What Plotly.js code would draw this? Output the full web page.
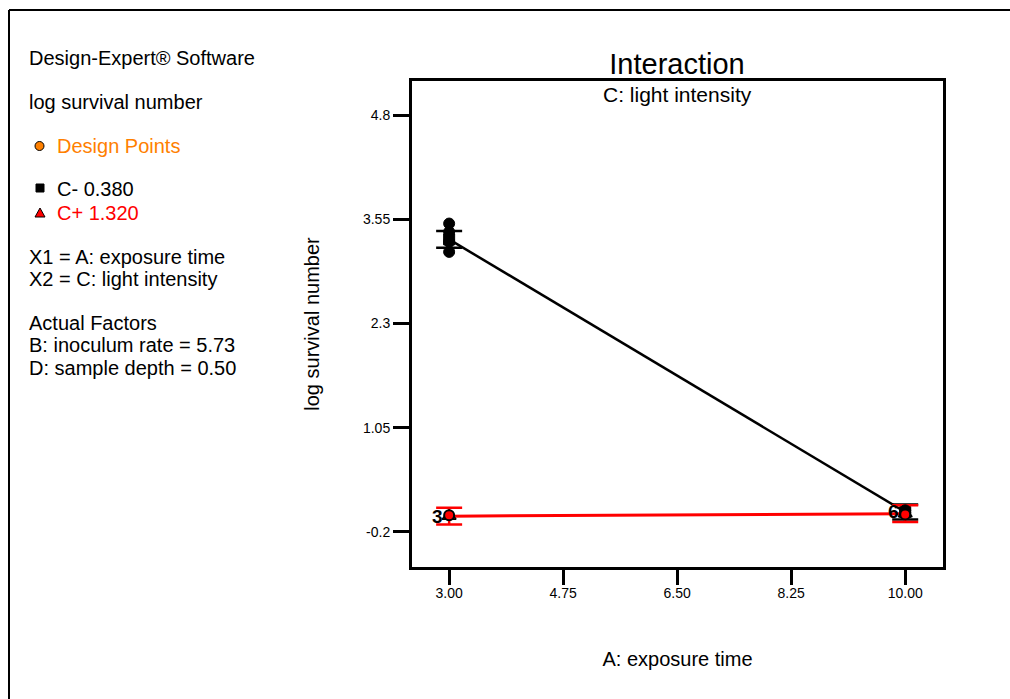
<!DOCTYPE html>
<html><head><meta charset="utf-8">
<script src="https://cdn.plot.ly/plotly-3.0.1.min.js"></script>
<style>html,body{margin:0;padding:0;background:#fff;overflow:hidden;}#chart{width:1010px;height:699px;}</style>
</head><body><div id="chart"></div>
<script>
// ---- data ----
const exposureLevels = [3, 10];
const cMinusPred = [3.31, 0.04];
const cPlusPred = [-0.01, 0.02];
const cMinusLSD = [0.10, 0.09];
const cPlusLSD = [0.10, 0.10];
const cMinusDesignX = [3, 3, 3, 3, 10, 10];
const cMinusDesignY = [3.50, 3.40, 3.28, 3.16, 0.03, 0.06];
const cPlusDesignX = [3, 10];
const cPlusDesignY = [0.0, 0.01];
const countLabels = ['3', '6'];
const countLabelY = [-0.01, 0.04];
const xTickVals = [3, 4.75, 6.5, 8.25, 10];
const xTickText = ['3.00', '4.75', '6.50', '8.25', '10.00'];
const yTickVals = [-0.2, 1.05, 2.3, 3.55, 4.8];
const yTickText = ['-0.2', '1.05', '2.3', '3.55', '4.8'];
const infoLines = [
  {text: 'Design-Expert® Software', color: '#000', y: 58, x: 29},
  {text: 'log survival number', color: '#000', y: 102, x: 29},
  {text: 'Design Points', color: '#FF8000', y: 146, x: 57},
  {text: 'C- 0.380', color: '#000', y: 189, x: 57},
  {text: 'C+ 1.320', color: '#FF0000', y: 213, x: 57},
  {text: 'X1 = A: exposure time', color: '#000', y: 257, x: 29},
  {text: 'X2 = C: light intensity', color: '#000', y: 279, x: 29},
  {text: 'Actual Factors', color: '#000', y: 323, x: 29},
  {text: 'B: inoculum rate = 5.73', color: '#000', y: 345, x: 29},
  {text: 'D: sample depth = 0.50', color: '#000', y: 368, x: 29}
];

// ---- layout helpers (pixel -> paper) ----
const L = 412, R = 943, T = 81, B = 567;
const px = p => (p - L) / (R - L);
const py = p => (B - p) / (B - T);
const FONT = 'Liberation Sans, Arial, sans-serif';

const traces = [
  {x: exposureLevels, y: cMinusPred, mode: 'lines+markers', type: 'scatter',
   line: {color: '#000', width: 2.5},
   marker: {symbol: 'square', size: 11, color: '#000', line: {color: '#000', width: 1}},
   error_y: {type: 'data', array: cMinusLSD, visible: true, color: '#000', thickness: 2.5, width: 13},
   hoverinfo: 'skip'},
  {x: exposureLevels, y: cPlusPred, mode: 'lines+markers', type: 'scatter',
   line: {color: '#FF0000', width: 3},
   marker: {symbol: 'triangle-up', size: 12, color: '#FF0000', line: {color: '#000', width: 1.5}},
   error_y: {type: 'data', array: cPlusLSD, visible: true, color: '#FF0000', thickness: 2.5, width: 13},
   hoverinfo: 'skip'},
  {x: cMinusDesignX, y: cMinusDesignY, mode: 'markers', type: 'scatter',
   marker: {symbol: 'circle', size: 11, color: '#000', line: {color: '#000', width: 1}},
   hoverinfo: 'skip'},
  {x: cPlusDesignX, y: cPlusDesignY, mode: 'markers', type: 'scatter',
   marker: {symbol: 'circle', size: 10, color: '#FF0000', line: {color: '#000', width: 2}},
   hoverinfo: 'skip'}
];

const annotations = infoLines.map(l => ({
  xref: 'paper', yref: 'paper', x: px(l.x - 2), y: py(l.y), xanchor: 'left', yanchor: 'middle',
  text: l.text, showarrow: false, font: {family: FONT, size: 20, color: l.color}
}));
annotations.push({xref: 'paper', yref: 'paper', x: 0.5, y: py(95), xanchor: 'center', yanchor: 'middle',
  text: 'C: light intensity', showarrow: false, font: {family: FONT, size: 21, color: '#000'}});
countLabels.forEach((t, i) => annotations.push({
  xref: 'x', yref: 'y', x: exposureLevels[i], y: countLabelY[i], xanchor: 'right', yanchor: 'middle', xshift: -4,
  text: '<b>' + t + '</b>', showarrow: false, font: {family: FONT, size: 19, color: '#000'}
}));

const shapes = [
  {type: 'line', xref: 'paper', yref: 'paper', x0: px(9), x1: px(9), y0: py(10), y1: py(699),
   line: {color: '#000', width: 2}},
  {type: 'line', xref: 'paper', yref: 'paper', x0: px(9), x1: px(1010), y0: py(10), y1: py(10),
   line: {color: '#000', width: 2}},
  {type: 'circle', xref: 'paper', yref: 'paper', x0: px(35), x1: px(44), y0: py(150.5), y1: py(141.5),
   line: {color: '#000', width: 1}, fillcolor: '#FF8000'},
  {type: 'rect', xref: 'paper', yref: 'paper', x0: px(36), x1: px(44), y0: py(192), y1: py(184),
   line: {color: '#000', width: 1}, fillcolor: '#000'},
  {type: 'path', xref: 'paper', yref: 'paper',
   path: `M ${px(35)} ${py(217)} L ${px(45)} ${py(217)} L ${px(40)} ${py(208)} Z`,
   line: {color: '#000', width: 1}, fillcolor: '#FF0000'}
];

const layout = {
  width: 1010, height: 699,
  margin: {l: L, r: 1010 - R, t: T, b: 699 - B, pad: 0},
  paper_bgcolor: '#fff', plot_bgcolor: '#fff',
  showlegend: false,
  font: {family: FONT, color: '#000'},
  title: {text: 'Interaction', x: px(677), xref: 'paper', xanchor: 'center', y: 1 - 64 / 699, yref: 'container', yanchor: 'middle',
          font: {family: FONT, size: 29, color: '#000'}},
  xaxis: {range: [2.43, 10.58], tickvals: xTickVals, ticktext: xTickText, ticks: 'outside', ticklen: 15, tickwidth: 3, tickcolor: '#000',
          ticklabelstandoff: -4,
          showline: true, linewidth: 3, linecolor: '#000', mirror: true, showgrid: false, zeroline: false,
          tickfont: {family: FONT, size: 14, color: '#000'},
          title: {text: 'A: exposure time', standoff: 53, font: {family: FONT, size: 20, color: '#000'}}},
  yaxis: {range: [-0.62, 5.21], tickvals: yTickVals, ticktext: yTickText, ticks: 'outside', ticklen: 16, tickwidth: 3, tickcolor: '#000',
          showline: true, linewidth: 3, linecolor: '#000', mirror: true, showgrid: false, zeroline: false,
          tickfont: {family: FONT, size: 14, color: '#000'},
          title: {text: 'log survival number', standoff: 38, font: {family: FONT, size: 20, color: '#000'}}},
  annotations: annotations,
  shapes: shapes
};

Plotly.newPlot('chart', traces, layout, {staticPlot: true, displayModeBar: false});
</script>
</body></html>
